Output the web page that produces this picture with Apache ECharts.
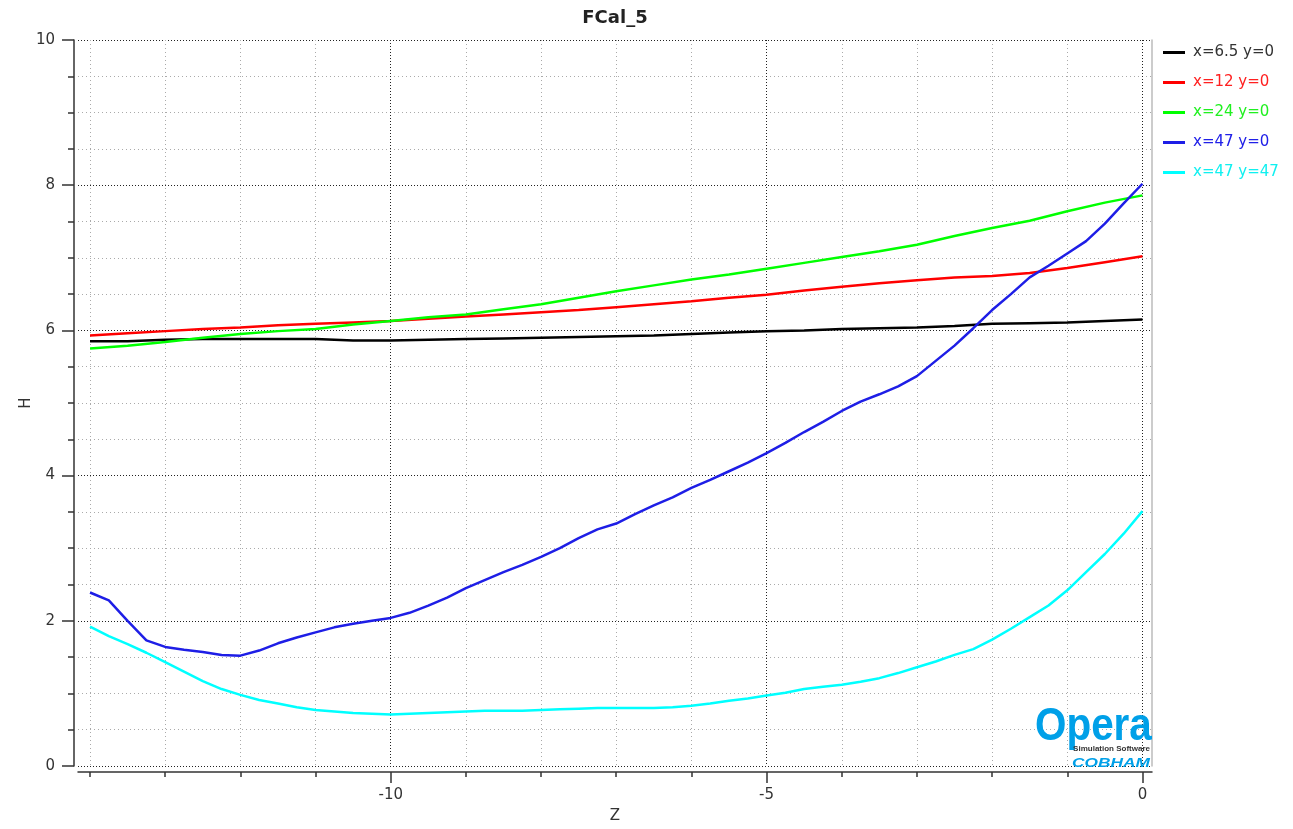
<!DOCTYPE html>
<html>
<head>
<meta charset="utf-8">
<script src="https://cdn.jsdelivr.net/npm/echarts@6/dist/echarts.min.js"></script>
<style>html,body{margin:0;padding:0;background:#fff}#c{width:1293px;height:829px}</style>
</head>
<body>
<div id="c"></div>
<script>
// ---- data ----
const seriesNames = ['x=6.5 y=0', 'x=12 y=0', 'x=24 y=0', 'x=47 y=0', 'x=47 y=47'];
const seriesColors = ['#000000', '#ff0000', '#00ff00', '#1e1ee6', '#00ffff'];
const legendTextColors = ['#333333', '#ff2020', '#20f020', '#2020e8', '#10f0f0'];

const zCoarse = [-14,-13.5,-13,-12.5,-12,-11.5,-11,-10.5,-10,-9.5,-9,-8.5,-8,-7.5,-7,-6.5,-6,-5.5,-5,-4.5,-4,-3.5,-3,-2.5,-2,-1.5,-1,-0.5,0];
const hX6_5 = [5.85,5.85,5.87,5.88,5.88,5.88,5.88,5.86,5.86,5.87,5.88,5.89,5.90,5.91,5.92,5.93,5.95,5.97,5.99,6.00,6.02,6.03,6.04,6.06,6.09,6.10,6.11,6.13,6.15];
const hX12 = [5.93,5.96,5.99,6.02,6.04,6.07,6.09,6.11,6.13,6.16,6.19,6.22,6.25,6.28,6.32,6.36,6.40,6.45,6.49,6.55,6.60,6.65,6.69,6.73,6.75,6.79,6.86,6.94,7.02];
const hX24 = [5.75,5.79,5.84,5.90,5.95,5.99,6.02,6.08,6.13,6.18,6.22,6.29,6.36,6.45,6.54,6.62,6.70,6.77,6.85,6.93,7.01,7.09,7.18,7.30,7.41,7.51,7.64,7.76,7.86];

const zFine = [-14,-13.75,-13.5,-13.25,-13,-12.75,-12.5,-12.25,-12,-11.75,-11.5,-11.25,-11,-10.75,-10.5,-10.25,-10,-9.75,-9.5,-9.25,-9,-8.75,-8.5,-8.25,-8,-7.75,-7.5,-7.25,-7,-6.75,-6.5,-6.25,-6,-5.75,-5.5,-5.25,-5,-4.75,-4.5,-4.25,-4,-3.75,-3.5,-3.25,-3,-2.75,-2.5,-2.25,-2,-1.75,-1.5,-1.25,-1,-0.75,-0.5,-0.25,0];
const hX47 = [2.39,2.28,2.00,1.73,1.64,1.60,1.57,1.53,1.52,1.59,1.69,1.77,1.84,1.91,1.96,2.00,2.04,2.11,2.21,2.32,2.45,2.56,2.67,2.77,2.88,3.00,3.14,3.26,3.34,3.47,3.59,3.70,3.83,3.94,4.06,4.18,4.31,4.45,4.60,4.74,4.89,5.02,5.12,5.23,5.37,5.58,5.79,6.03,6.28,6.50,6.73,6.89,7.06,7.23,7.47,7.75,8.02];
const hX47Y47 = [1.92,1.79,1.68,1.56,1.43,1.30,1.17,1.06,0.98,0.91,0.86,0.81,0.77,0.75,0.73,0.72,0.71,0.72,0.73,0.74,0.75,0.76,0.76,0.76,0.77,0.78,0.79,0.80,0.80,0.80,0.80,0.81,0.83,0.86,0.90,0.93,0.97,1.01,1.06,1.09,1.12,1.16,1.21,1.28,1.36,1.44,1.53,1.61,1.74,1.89,2.05,2.21,2.42,2.67,2.92,3.20,3.51];

const xMajorTicks = [-10, -5, 0];
const xMinorTicks = [-14,-13,-12,-11,-9,-8,-7,-6,-4,-3,-2,-1];
const xMin = -14.16, xMax = 0.127;
const yMin = 0, yMax = 10, yInterval = 2;

// ---- chart ----
const FONT = 'DejaVu Sans';
const pair = (xs, ys) => xs.map((x, i) => [x, ys[i]]);
const seriesData = [
  pair(zCoarse, hX6_5), pair(zCoarse, hX12), pair(zCoarse, hX24),
  pair(zFine, hX47), pair(zFine, hX47Y47)
];

const chart = echarts.init(document.getElementById('c'), null, {renderer: 'canvas'});
const majorGrid = {show: true, lineStyle: {color: '#222', width: 1, type: [1, 2]}};
const minorGrid = {show: true, lineStyle: {color: '#aaa', width: 1, type: [1, 3]}};

chart.setOption({
  animation: false,
  backgroundColor: '#fff',
  title: {
    text: 'FCal_5', left: 610, top: 4, textAlign: 'center',
    textStyle: {fontFamily: FONT, fontSize: 18, fontWeight: 'bold', color: '#222'}
  },
  grid: {left: 78, right: 141, top: 40, bottom: 58, containLabel: false},
  legend: {
    orient: 'vertical', left: 1158, top: 40, icon: 'rect', itemWidth: 22, itemHeight: 3, itemGap: 15,
    textStyle: {fontFamily: FONT, fontSize: 15, padding: [0, 0, 0, 3]},
    data: seriesNames.map((n, i) => ({name: n, textStyle: {color: legendTextColors[i]}}))
  },
  xAxis: [
    {
      type: 'value', min: xMin, max: xMax, position: 'bottom', offset: 6,
      name: 'Z', nameLocation: 'middle', nameGap: 37, nameMoveOverlap: false,
      nameTextStyle: {fontFamily: FONT, fontSize: 15, color: '#333'},
      axisLine: {show: true, onZero: false, lineStyle: {color: '#333', width: 1.5}},
      axisTick: {show: true, length: 11, customValues: xMajorTicks, lineStyle: {color: '#333', width: 1.5}},
      axisLabel: {show: true, customValues: xMajorTicks, margin: 16, fontFamily: FONT, fontSize: 15, color: '#333'},
      splitLine: majorGrid
    },
    {
      type: 'value', min: xMin, max: xMax, position: 'bottom', offset: 6,
      axisLine: {show: false, onZero: false},
      axisTick: {show: true, length: 5, customValues: xMinorTicks, lineStyle: {color: '#333', width: 1.5}},
      axisLabel: {show: false},
      splitLine: minorGrid
    }
  ],
  yAxis: [
    {
      type: 'value', min: yMin, max: yMax, interval: yInterval, position: 'left', offset: 4,
      name: 'H', nameLocation: 'middle', nameGap: 40, nameMoveOverlap: false,
      nameTextStyle: {fontFamily: FONT, fontSize: 15, color: '#333'},
      axisLine: {show: true, onZero: false, lineStyle: {color: '#333', width: 1.5}},
      axisTick: {show: true, length: 12, lineStyle: {color: '#333', width: 1.5}},
      minorTick: {show: true, splitNumber: 4, length: 6, lineStyle: {color: '#333', width: 1.5}},
      axisLabel: {margin: 19, fontFamily: FONT, fontSize: 15, color: '#333'},
      splitLine: majorGrid,
      minorSplitLine: minorGrid
    },
    {
      type: 'value', min: yMin, max: yMax, position: 'right',
      axisLine: {show: true, onZero: false, lineStyle: {color: '#bbb', width: 1.5}},
      axisTick: {show: false}, axisLabel: {show: false}, splitLine: {show: false}
    }
  ],
  series: seriesNames.map((n, i) => ({
    name: n, type: 'line', xAxisIndex: 0, yAxisIndex: 0,
    data: seriesData[i], symbol: 'none', smooth: false,
    lineStyle: {color: seriesColors[i], width: 2.5},
    itemStyle: {color: seriesColors[i]},
    z: 3
  })),
  graphic: [
    {type: 'text', x: 1035, y: 727, scaleX: 0.86, z: 10,
      style: {text: 'Opera', font: 'bold 47px "Liberation Sans"', fill: '#00a0e8', verticalAlign: 'middle', align: 'left'}},
    {type: 'text', x: 1150, y: 749, z: 10,
      style: {text: 'Simulation Software', font: 'bold 8px "Liberation Sans"', fill: '#333', verticalAlign: 'middle', align: 'right'}},
    {type: 'text', x: 1072, y: 763, scaleX: 1.33, z: 10,
      style: {text: 'COBHAM', font: 'italic bold 13px "Liberation Sans"', fill: '#00a0e8', verticalAlign: 'middle', align: 'left'}}
  ]
});
</script>
</body>
</html>
